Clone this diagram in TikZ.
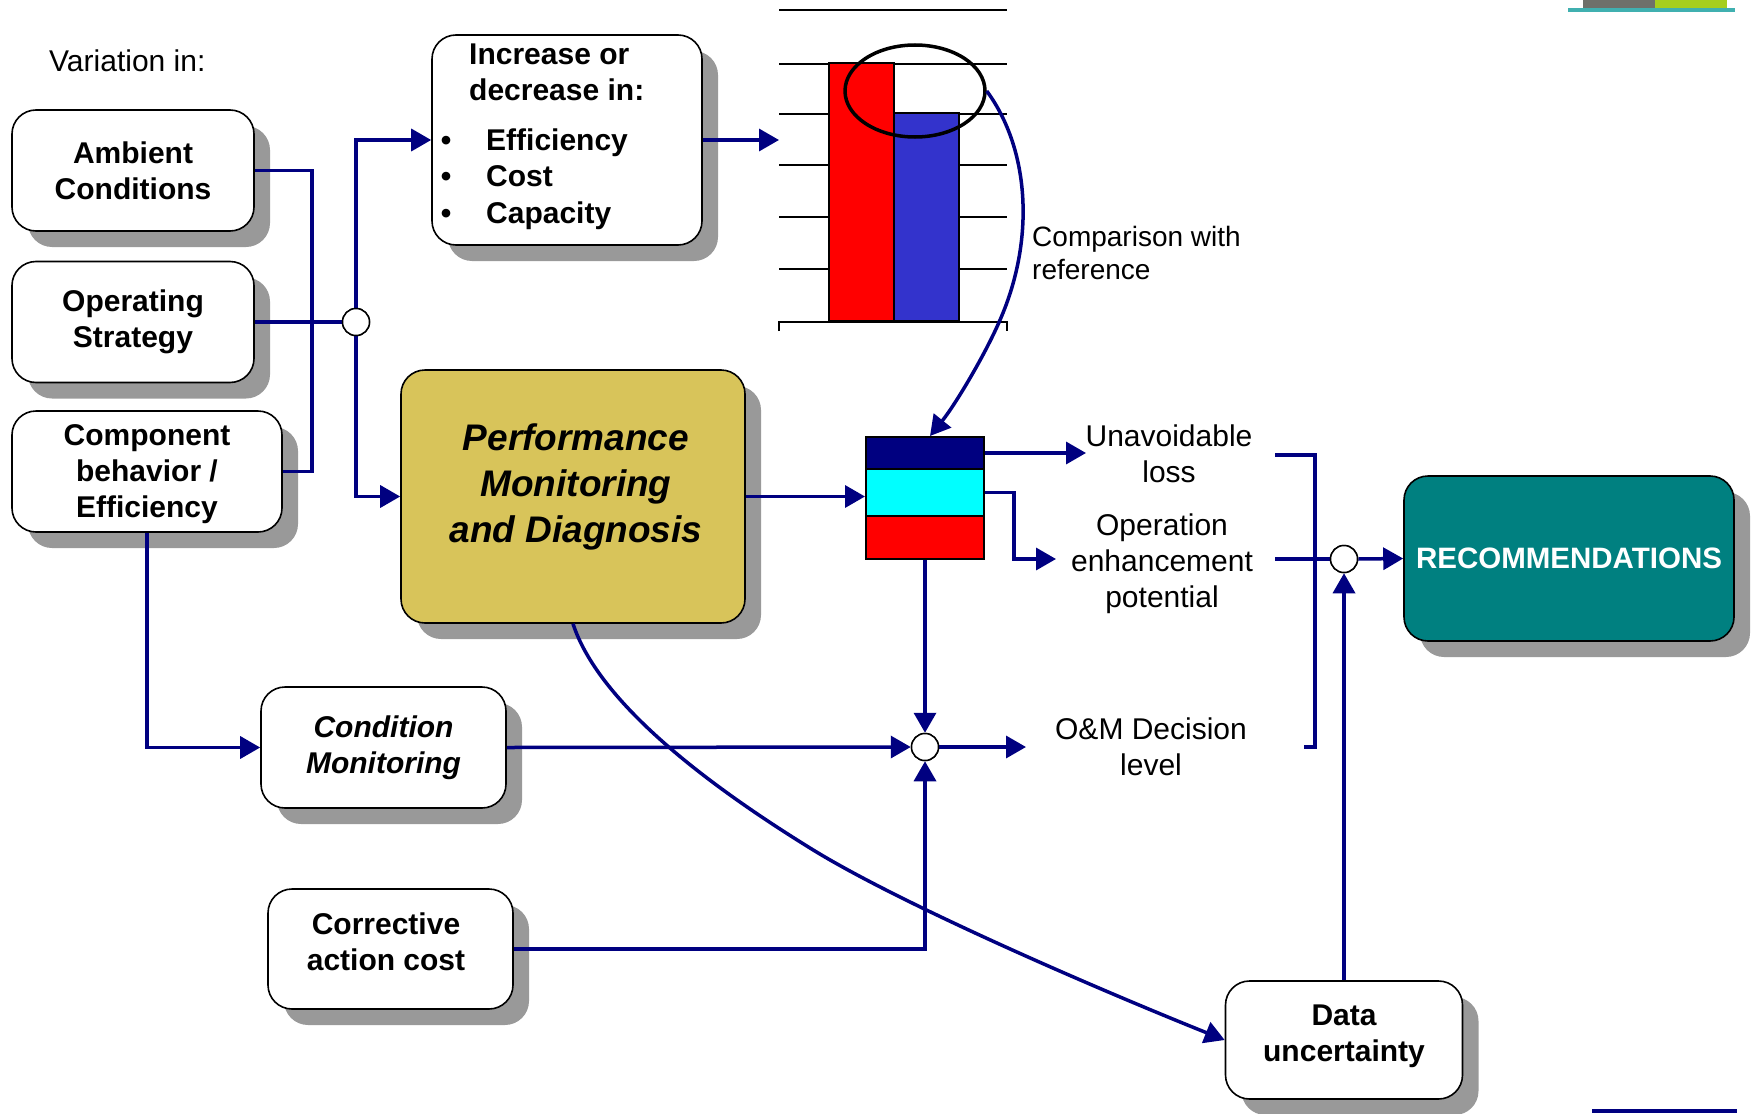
\documentclass[tikz,border=0pt]{standalone}
\usepackage{fontspec}
\setmainfont{Liberation Sans}
\usetikzlibrary{arrows.meta,shadows,shapes.geometric}
\definecolor{navy}{RGB}{0,0,128}
\definecolor{aqua}{RGB}{0,255,255}
\definecolor{brightred}{RGB}{255,0,0}
\definecolor{shgray}{RGB}{153,153,153}
\definecolor{khaki}{RGB}{216,196,90}
\definecolor{tealbox}{RGB}{0,128,128}
\definecolor{barblue}{RGB}{51,51,204}
\definecolor{logogray}{RGB}{110,112,106}
\definecolor{logogreen}{RGB}{166,206,30}
\definecolor{logoteal}{RGB}{64,176,176}
\begin{document}
\begin{tikzpicture}[x=1pt,y=-1pt,
 box/.style={draw=black, line width=1.6pt, fill=white, rounded corners=24pt,
   drop shadow={shadow xshift=16pt,shadow yshift=-16pt,fill=shgray,opacity=1},
   align=center, font=\fontsize{30}{36}\selectfont\bfseries, inner sep=0pt},
 conn/.style={draw=navy, line width=3.5pt},
 arr/.style={conn, -{Triangle[length=20pt,width=22pt]}},
 junc/.style={circle, draw=black, fill=white, line width=1.5pt, minimum size=27pt, inner sep=0pt},
 lbl/.style={font=\fontsize{30}{36}\selectfont, align=center, inner sep=0pt},
 boldlbl/.style={font=\fontsize{30}{36}\selectfont\bfseries, inner sep=0pt},
 boxtext/.style={font=\fontsize{30}{36}\selectfont\bfseries, align=center, inner sep=0pt},
 gridline/.style={draw=black, line width=2.5pt},
 seg/.style={draw=black, line width=2pt, minimum width=118pt, inner sep=0pt},
]
\useasboundingbox (0,0) rectangle (1752,1113);

% logo fragments
\fill[logogray] (1583,0) rectangle (1655,8);
\fill[logogreen] (1655,0) rectangle (1727,8);
\fill[logoteal] (1568,8.5) rectangle (1735,12.5);
\fill[navy] (1592,1109) rectangle (1737,1113);

% chart
\foreach \yy in {10,64,114,165,217,269} \draw[gridline] (779,\yy) -- (1007,\yy);
\draw[gridline] (779,331) -- (779,322) -- (1007,322) -- (1007,331);
\node[draw=black, line width=2pt, fill=brightred, minimum width=65pt, minimum height=258pt, anchor=south west, inner sep=0pt] (rbar) at (828,322) {};
\node[draw=black, line width=2pt, fill=barblue, minimum width=65pt, minimum height=208pt, anchor=south west, inner sep=0pt] (bbar) at (893,322) {};
\node[ellipse, draw=black, line width=3.5pt, minimum width=140pt, minimum height=92pt, inner sep=0pt] (ell) at (915,91) {};

% boxes
\node[box, minimum width=242pt, minimum height=121pt] (amb) at (133,170.5) {Ambient\\Conditions};
\node[box, minimum width=242pt, minimum height=121pt] (ops) at (133,322) {Operating\\Strategy};
\node[box, minimum width=270pt, minimum height=121pt] (comp) at (147,471.5) {};
\node[box, minimum width=270pt, minimum height=210pt] (inc) at (567,140) {};
\node[box, fill=khaki, minimum width=344pt, minimum height=253pt] (perf) at (573,496.5) {};
\node[box, minimum width=245pt, minimum height=121pt, font=\fontsize{30}{36}\selectfont\bfseries\itshape] (cond) at (383.5,747.5) {Condition\\Monitoring};
\node[box, minimum width=245pt, minimum height=120pt] (corr) at (390.5,949) {};
\node[box, minimum width=237pt, minimum height=118pt] (data) at (1344,1040) {};
\node[box, fill=tealbox, text=white, minimum width=330pt, minimum height=165pt, font=\fontsize{29.5}{36}\selectfont\bfseries] (rec) at (1569,558.5) {RECOMMENDATIONS};

% texts inside / labels
\node[boxtext] (compt) at (147,474.5) {Component\\behavior /\\Efficiency};
\node[boxtext] (corrt) at (386,942) {Corrective\\action cost};
\node[boxtext] (datat) at (1344,1036) {Data\\uncertainty};
\node[font=\fontsize{37}{46}\selectfont\bfseries\itshape, align=center, inner sep=0pt] (perft) at (576,487) {Performance\\Monitoring\\and Diagnosis};
\node[boldlbl, anchor=base west] (inc1) at (469,65) {Increase or};
\node[boldlbl, anchor=base west] (inc2) at (469,101) {decrease in:};
\node[boldlbl, anchor=base] (b1) at (446,150) {\textbullet};
\node[boldlbl, anchor=base] (b2) at (446,186) {\textbullet};
\node[boldlbl, anchor=base] (b3) at (446,223) {\textbullet};
\node[boldlbl, anchor=base west] (it1) at (486,150) {Efficiency};
\node[boldlbl, anchor=base west] (it2) at (486,186) {Cost};
\node[boldlbl, anchor=base west] (it3) at (486,223) {Capacity};
\node[lbl, anchor=base west] (var) at (49,72) {Variation in:};
\node[lbl, align=left, anchor=west, font=\fontsize{28}{33}\selectfont] (cmp) at (1032,253) {Comparison with\\reference};
\node[lbl] (unav) at (1169,454) {Unavoidable\\loss};
\node[lbl] (oep) at (1162,564) {Operation\\enhancement\\potential};
\node[lbl] (omd) at (1151,747) {O\&M Decision\\level};

% stacked bar
\node[seg, fill=navy, minimum height=32pt] (s1) at (925,453) {};
\node[seg, fill=aqua, minimum height=47pt] (s2) at (925,492.5) {};
\node[seg, fill=brightred, minimum height=43pt] (s3) at (925,537.5) {};

% junctions
\node[junc] (j1) at (356,322) {};
\node[junc] (j2) at (925,747) {};
\node[junc] (j3) at (1344,559) {};

% coordinates
\coordinate (bx) at (312,0);
\coordinate (chartin) at (779,140);
\coordinate (ul) at (1086,453);
\coordinate (oe) at (1056,559);
\coordinate (om) at (1026,747);
\coordinate (k1) at (1275,455);
\coordinate (k2) at (1304,747);
\coordinate (k3) at (1275,559);

% connectors
\draw[conn] (amb.east) -- (amb.east -| bx) -- (comp.east -| bx) -- (comp.east);
\draw[conn] (ops.east) -- (j1.west);
\draw[arr] (j1.north) |- (inc.west);
\draw[arr] (j1.south) |- (perf.west);
\draw[arr] (inc.east) -- (chartin);
\draw[arr] (ell.east) .. controls (1030,150) and (1035,240) .. (1000,320) .. controls (985,355) and (955,405) .. ([xshift=5pt]s1.north);
\draw[arr] (perf.east) -- (perf.east -| s2.west);
\draw[arr] (s1.east) -- (ul);
\draw[arr] (s2.east) -- ++(29pt,0) |- (oe);
\draw[arr] (s3.south) -- (j2.north);
\draw[arr] (cond.east) -- (j2.west);
\draw[arr] (j2.east) -- (om);
\draw[arr] (corr.east) -| (j2.south);
\draw[arr] (comp.south) |- (cond.west);
\draw[conn] (k1) -- (1315,455) -- (1315,747) -- (k2);
\draw[conn] (k3) -- (j3.west);
\draw[arr] (j3.east) -- (rec.west);
\draw[arr] (data.north) -- (j3.south);
\draw[arr] (perf.south) .. controls (598,700) and (700,780) .. (810,848) .. controls (900,904) and (1100,990) .. (data.west);

% redraw junctions on top
\node[junc] at (j1) {};
\node[junc] at (j2) {};
\node[junc] at (j3) {};
\end{tikzpicture}
\end{document}
